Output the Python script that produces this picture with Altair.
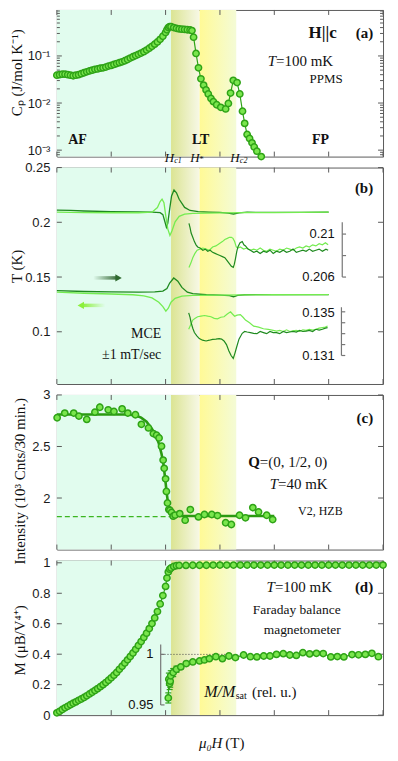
import altair as alt
import pandas as pd

# ------------------------------------------------------------------ data
H_C1, H_STAR, H_C2 = 4.2, 5.25, 6.6
FIELD_TICKS = [0, 2, 4, 6, 8, 10, 12]

# (a) specific heat, T = 100 mK (PPMS)
cp_field = [0.0, 0.1, 0.2, 0.3, 0.4, 0.5, 0.6, 0.7, 0.8, 0.9, 1.0, 1.1, 1.2, 1.3, 1.4, 1.5, 1.6, 1.7, 1.8, 1.9,
            2.0, 2.1, 2.2, 2.3, 2.4, 2.5, 2.6, 2.7, 2.8, 2.9, 3.0, 3.1, 3.2, 3.3, 3.4, 3.5, 3.6, 3.7, 3.8, 3.9,
            4.0, 4.05, 4.1, 4.15, 4.2, 4.3, 4.4, 4.5, 4.6, 4.7, 4.8, 4.9, 4.97, 5.03,
            5.12, 5.21, 5.30, 5.40, 5.49, 5.57, 5.67, 5.76, 5.88, 6.03, 6.21, 6.31, 6.39, 6.49, 6.63, 6.73,
            6.83, 6.91, 7.00, 7.09, 7.18, 7.26, 7.36, 7.52]
cp_value = [0.039, 0.040, 0.041, 0.041, 0.040, 0.039, 0.038, 0.039, 0.040, 0.042, 0.044, 0.046, 0.048, 0.050,
            0.052, 0.053, 0.055, 0.056, 0.058, 0.061, 0.063, 0.066, 0.069, 0.072, 0.075, 0.079, 0.084, 0.090,
            0.096, 0.102, 0.108, 0.115, 0.123, 0.133, 0.146, 0.160, 0.178, 0.198, 0.225, 0.262,
            0.315, 0.36, 0.40, 0.42, 0.42, 0.40, 0.385, 0.375, 0.37, 0.365, 0.36, 0.355, 0.345, 0.25,
            0.113, 0.056, 0.0327, 0.024, 0.019, 0.0156, 0.0125, 0.0107, 0.0092, 0.0081, 0.0075, 0.0098, 0.0163,
            0.0303, 0.0272, 0.0156, 0.0067, 0.0037, 0.00216, 0.00177, 0.00143, 0.00117, 0.00095, 0.00073]
cp_minor_ticks = [0.0008, 0.0009, 0.002, 0.003, 0.004, 0.005, 0.006, 0.007, 0.008, 0.009, 0.02, 0.03, 0.04,
                  0.05, 0.06, 0.07, 0.08, 0.09, 0.2, 0.3, 0.4, 0.5, 0.6, 0.7, 0.8, 0.9]

# (b) magnetocaloric effect, up sweep (dark) and down sweep (light)
up_hi_field = [0, 0.5, 1, 2, 3, 3.5, 3.8, 3.9, 3.97, 4.03, 4.08, 4.15, 4.22, 4.31, 4.4, 4.5, 4.7, 4.9, 5.2,
               5.6, 6.0, 6.3, 6.5, 6.7, 7.0, 8.0, 9.0, 10.0]
up_hi_temp = [0.2112, 0.2108, 0.2103, 0.2098, 0.2095, 0.2093, 0.2088, 0.207, 0.201, 0.1955, 0.199, 0.212,
              0.224, 0.2296, 0.227, 0.221, 0.2136, 0.2108, 0.2097, 0.2093, 0.209, 0.2083, 0.2076, 0.2087,
              0.2092, 0.209, 0.2091, 0.2092]
dn_hi_field = [0, 1, 2, 3, 3.5, 3.7, 3.8, 3.87, 3.94, 4.0, 4.08, 4.16, 4.24, 4.35, 4.5, 4.7, 5.0, 6.0, 7.0,
               8.0, 9.0, 10.0]
dn_hi_temp = [0.2092, 0.2089, 0.2087, 0.2087, 0.2092, 0.2135, 0.219, 0.2212, 0.218, 0.207, 0.194, 0.188,
              0.1925, 0.2005, 0.2055, 0.2075, 0.2082, 0.2086, 0.2088, 0.2089, 0.209, 0.2092]
up_lo_field = [0, 1, 2, 3, 3.6, 3.9, 4.05, 4.15, 4.3, 4.45, 4.6, 4.8, 5.0, 5.5, 6.0, 6.35, 6.5, 6.65, 6.9,
               7.5, 8.5, 10.0]
up_lo_temp = [0.1375, 0.1368, 0.1364, 0.1362, 0.1365, 0.1372, 0.1395, 0.1445, 0.1491, 0.1462, 0.1405,
              0.1362, 0.1348, 0.1338, 0.1334, 0.1330, 0.1320, 0.1333, 0.1338, 0.1339, 0.1339, 0.1340]
dn_lo_field = [0, 1, 2, 2.8, 3.2, 3.5, 3.75, 3.9, 4.01, 4.1, 4.2, 4.35, 4.6, 5.0, 6.0, 7.0, 8.0, 10.0]
dn_lo_temp = [0.1362, 0.1352, 0.1345, 0.1338, 0.1328, 0.1310, 0.1270, 0.1230, 0.1188, 0.1215, 0.1270,
              0.1305, 0.1325, 0.1332, 0.1335, 0.1337, 0.1338, 0.1340]

# (b) insets: zoomed traces (own temperature scales)
ins_up_dark_field = [4.86, 4.90, 4.94, 5.0, 5.06, 5.12, 5.18, 5.27, 5.37, 5.46, 5.55, 5.64, 5.73, 5.82, 5.91,
                     6.0, 6.09, 6.18, 6.27, 6.36, 6.42, 6.49, 6.53, 6.57, 6.62, 6.66, 6.74, 6.82, 6.88, 6.94,
                     7.03, 7.12, 7.24, 7.36, 7.48, 7.6, 7.72, 7.84, 7.96, 8.08, 8.2, 8.33, 8.45, 8.57, 8.69,
                     8.81, 8.93, 9.05, 9.17, 9.29, 9.41, 9.53, 9.65, 9.77, 9.9, 9.98]
ins_up_dark_temp = [0.2110, 0.2106, 0.2101, 0.2097, 0.2093, 0.2090, 0.2088, 0.2087, 0.2085, 0.2086, 0.2084,
                    0.2085, 0.2083, 0.2082, 0.2081, 0.2080, 0.2079, 0.2078, 0.2075, 0.2072, 0.2070, 0.2069,
                    0.2072, 0.2077, 0.2084, 0.2088, 0.2092, 0.2093, 0.2090, 0.2089, 0.2086, 0.2085, 0.2083,
                    0.2084, 0.2082, 0.2084, 0.2083, 0.2085, 0.2082, 0.2084, 0.2083, 0.2085, 0.2083, 0.2084,
                    0.2086, 0.2083, 0.2084, 0.2085, 0.2084, 0.2086, 0.2084, 0.2085, 0.2086, 0.2084, 0.2086,
                    0.2085]
ins_up_light_field = [4.86, 4.93, 5.0, 5.08, 5.16, 5.26, 5.37, 5.49, 5.61, 5.73, 5.85, 5.97, 6.09, 6.18, 6.27,
                      6.35, 6.42, 6.48, 6.54, 6.6, 6.66, 6.75, 6.87, 6.99, 7.12, 7.24, 7.36, 7.48, 7.6, 7.72,
                      7.84, 7.96, 8.08, 8.2, 8.33, 8.45, 8.57, 8.69, 8.81, 8.93, 9.05, 9.17, 9.29, 9.41, 9.53,
                      9.65, 9.77, 9.88, 9.98]
ins_up_light_temp = [0.2069, 0.2073, 0.2078, 0.2082, 0.2085, 0.2086, 0.2087, 0.2086, 0.2085, 0.2088, 0.2089,
                     0.2091, 0.2093, 0.2095, 0.2096, 0.2097, 0.2097, 0.2096, 0.2093, 0.2088, 0.2087, 0.2088,
                     0.2086, 0.2087, 0.2085, 0.2086, 0.2085, 0.2087, 0.2085, 0.2084, 0.2086, 0.2085, 0.2084,
                     0.2086, 0.2085, 0.2087, 0.2086, 0.2085, 0.2087, 0.2088, 0.2087, 0.2089, 0.2088, 0.2090,
                     0.2089, 0.2091, 0.2090, 0.2092, 0.2090]
ins_lo_dark_field = [4.85, 4.9, 4.94, 5.0, 5.06, 5.15, 5.24, 5.36, 5.49, 5.61, 5.73, 5.85, 5.97, 6.06, 6.15,
                     6.24, 6.33, 6.41, 6.49, 6.55, 6.61, 6.7, 6.82, 6.91, 7.0, 7.12, 7.24, 7.36, 7.48, 7.6,
                     7.72, 7.84, 7.96, 8.08, 8.2, 8.33, 8.45, 8.57, 8.69, 8.81, 8.93, 9.05, 9.17, 9.29, 9.41,
                     9.53, 9.65, 9.77, 9.88, 9.96]
ins_lo_dark_temp = [0.1349, 0.1345, 0.1340, 0.1335, 0.1331, 0.1328, 0.13255, 0.1324, 0.13233, 0.1324,
                    0.13248, 0.1325, 0.13255, 0.1325, 0.13233, 0.1320, 0.13142, 0.1310, 0.13073, 0.1312,
                    0.13173, 0.1325, 0.13303, 0.1332, 0.13315, 0.1331, 0.13303, 0.1330, 0.1332, 0.1331,
                    0.1330, 0.1332, 0.1331, 0.1331, 0.1330, 0.1332, 0.1331, 0.13315, 0.1332, 0.13315,
                    0.1333, 0.1332, 0.13324, 0.1333, 0.1332, 0.1334, 0.13333, 0.1334, 0.1335, 0.13355]
ins_lo_light_field = [4.85, 4.92, 5.0, 5.09, 5.18, 5.3, 5.43, 5.55, 5.67, 5.79, 5.91, 6.03, 6.15, 6.27, 6.39,
                      6.46, 6.54, 6.63, 6.75, 6.85, 6.94, 7.09, 7.24, 7.42, 7.6, 7.78, 7.96, 8.08, 8.2, 8.33,
                      8.45, 8.57, 8.69, 8.81, 8.93, 9.05, 9.17, 9.29, 9.41, 9.53, 9.65, 9.77, 9.88, 9.96]
ins_lo_light_temp = [0.1334, 0.1338, 0.13424, 0.1344, 0.13455, 0.1346, 0.13466, 0.1346, 0.13455, 0.1344,
                     0.13436, 0.1345, 0.13455, 0.1348, 0.1350, 0.1348, 0.1346, 0.1347, 0.13475, 0.1345,
                     0.13424, 0.1340, 0.13369, 0.1336, 0.13345, 0.1334, 0.1333, 0.13324, 0.1333, 0.1332,
                     0.13335, 0.1332, 0.13325, 0.1333, 0.1332, 0.13335, 0.1333, 0.1334, 0.13333, 0.1334,
                     0.1335, 0.13355, 0.1336, 0.1337]

# (c) neutron intensity of Q=(0,1/2,0), T = 40 mK
nd_field = [0.01, 0.29, 0.62, 0.81, 1.10, 1.40, 1.58, 1.89, 2.10, 2.40, 2.61, 2.89, 3.11, 3.37, 3.55, 3.67,
            3.76, 3.85, 3.91, 3.95, 4.00, 4.03, 4.07, 4.12, 4.16, 4.22, 4.28, 4.35, 4.52, 4.72, 4.91, 5.21,
            5.43, 5.70, 5.91, 6.21, 6.42, 6.72, 6.94, 7.21, 7.42, 7.72, 7.94]
nd_int = [2.779, 2.824, 2.824, 2.795, 2.763, 2.833, 2.881, 2.856, 2.840, 2.865, 2.824, 2.808, 2.715, 2.680,
          2.625, 2.609, 2.583, 2.503, 2.368, 2.288, 2.186, 2.064, 1.952, 1.888, 1.881, 1.86, 1.824, 1.835,
          1.849, 1.785, 1.888, 1.817, 1.840, 1.840, 1.830, 1.760, 1.743, 1.833, 1.808, 1.907, 1.865, 1.833,
          1.791]
nd_err = [0.03, 0.03, 0.03, 0.03, 0.03, 0.03, 0.035, 0.03, 0.03, 0.03,
          0.03, 0.03, 0.03, 0.03, 0.03, 0.03, 0.03, 0.03, 0.03, 0.03,
          0.03, 0.03, 0.03, 0.025, 0.025, 0.025, 0.025, 0.025, 0.025, 0.025,
          0.025, 0.025, 0.025, 0.025, 0.025, 0.025, 0.025, 0.025, 0.025, 0.035,
          0.025, 0.025, 0.025]
fit_field = [0.0, 2.6, 2.9, 3.1, 3.3, 3.5, 3.65, 3.75, 3.85, 3.92, 3.98, 4.04, 4.1, 4.16, 4.24, 4.4, 8.0]
fit_int = [2.81, 2.81, 2.80, 2.78, 2.74, 2.67, 2.60, 2.53, 2.43, 2.33, 2.20, 2.05, 1.93, 1.87, 1.835, 1.825,
           1.825]
base_field = [0.0, 4.2]
base_int = [1.82, 1.82]

# (d) magnetization, T = 100 mK (Faraday balance)
m_field = [0.0, 0.1, 0.2, 0.3, 0.4, 0.5, 0.6, 0.7, 0.8, 0.9, 1.0, 1.1, 1.2, 1.3, 1.4, 1.5, 1.6, 1.7, 1.8, 1.9,
           2.0, 2.1, 2.2, 2.3, 2.4, 2.5, 2.6, 2.7, 2.8, 2.9, 3.0, 3.1, 3.2, 3.3, 3.4, 3.5, 3.6, 3.7, 3.8, 3.9,
           4.0, 4.05, 4.1, 4.15, 4.2, 4.3, 4.4, 4.5, 4.75, 5.0, 5.25, 5.5, 5.75, 6.0, 6.25, 6.5, 6.75, 7.0,
           7.25, 7.5, 7.75, 8.0, 8.25, 8.5, 8.75, 9.0, 9.25, 9.5, 9.75, 10.0, 10.25, 10.5, 10.75, 11.0, 11.25,
           11.5, 11.75, 12.0]
m_value = [0.015, 0.025, 0.037, 0.048, 0.058, 0.068, 0.078, 0.087, 0.097, 0.106, 0.116,
           0.127, 0.139, 0.150, 0.162, 0.174, 0.187, 0.200, 0.214, 0.229, 0.245,
           0.262, 0.280, 0.301, 0.321, 0.342, 0.363, 0.385, 0.408, 0.432, 0.457,
           0.483, 0.510, 0.538, 0.568, 0.601, 0.638, 0.680, 0.730, 0.785, 0.845,
           0.90, 0.94, 0.958, 0.966, 0.976, 0.981,
           0.983, 0.983, 0.984, 0.984, 0.984, 0.985, 0.985, 0.985, 0.985, 0.985,
           0.985, 0.985, 0.985, 0.985, 0.985, 0.985, 0.985, 0.985, 0.985, 0.985,
           0.985, 0.985, 0.985, 0.985, 0.985, 0.985, 0.985, 0.985, 0.985, 0.985, 0.985]
# (d) inset: M / M_sat (relative units)
rel_field = [4.10, 4.12, 4.15, 4.17, 4.19, 4.28, 4.40, 4.56, 4.76, 5.00, 5.25, 5.43, 5.61, 5.85, 6.09, 6.33,
             6.57, 6.87, 7.12, 7.36, 7.61, 7.84, 8.08, 8.33, 8.57, 8.81, 9.05, 9.30, 9.55, 9.80, 10.08, 10.32,
             10.56, 10.86, 11.10, 11.35, 11.59, 11.83]
rel_value = [0.9569, 0.9755, 0.9712, 0.9735, 0.9788, 0.982, 0.9853, 0.9876, 0.9909, 0.9925, 0.9935, 0.9945,
             0.9958, 0.9977, 0.9958, 0.9984, 0.9968, 0.9994, 0.9977, 0.9975, 0.9984, 0.9984, 1.0, 1.0007,
             0.9994, 0.999, 1.0017, 1.0005, 1.001, 1.0008, 0.9975, 0.9978, 0.9975, 0.9998, 0.9996, 1.0, 1.001,
             0.9977]
rel_err = [0.005, 0.006, 0.006, 0.006, 0.005, 0.004, 0.003, 0.002, 0.002, 0.0015,
           0.0015, 0.0015, 0.0015, 0.0015, 0.0015, 0.0015, 0.0015, 0.0015, 0.0015, 0.0015,
           0.0015, 0.0015, 0.0015, 0.0015, 0.0015, 0.0015, 0.0015, 0.0015, 0.0015, 0.0015,
           0.0015, 0.0015, 0.0015, 0.0015, 0.0015, 0.0015, 0.0015, 0.0015]

# ------------------------------------------------------------------ style / layout
W = 327
HA, HB, HC, HD = 147, 217, 155, 155
FX = W / 331.0
FA, FB, FC, FD = HA / 154.0, HB / 218.0, HC / 156.0, HD / 156.0
FRAME = "#5b5b5b"
SANS = "Liberation Sans"
SERIF = "Liberation Serif"
MK_FILL = "#7ae64d"
MK_EDGE = "#2fa317"
DARK = "#1f8a1f"
LIGHT = "#74ec50"

XS = alt.Scale(domain=[0, 12], nice=False, zero=False)
ONE = pd.DataFrame({"k": [0]})


def table(**cols):
    return pd.DataFrame(cols)


def xq(field, axis=None):
    return alt.X(f"{field}:Q", scale=XS, axis=axis)


def yq(field, scale, axis=None):
    return alt.Y(f"{field}:Q", scale=scale, axis=axis)


def text(s, x, y, size=15, align="left", weight="normal", style="normal", font=SERIF, color="#111"):
    return alt.Chart(ONE).mark_text(text=s, align=align, baseline="middle", fontSize=size,
                                    fontWeight=weight, fontStyle=style, font=font, color=color
                                    ).encode(x=alt.value(x * FX), y=alt.value(y))


def grad(c0, c1):
    return alt.LinearGradient(gradient="linear",
                              stops=[alt.GradientStop(color=c0, offset=0), alt.GradientStop(color=c1, offset=1)],
                              x1=0, x2=1, y1=0, y2=0)


def backgrounds(h):
    spec = [(0.0, H_C1, "#e1fcee"),
            (H_C1, H_STAR, grad("#dbe493", "#f7f8e6")),
            (H_STAR, H_C2, grad("#fffa96", "#f4fbd6"))]
    out = []
    for a, b, fill in spec:
        out.append(alt.Chart(table(a=[a], b=[b])).mark_rect(fill=fill, strokeWidth=0).encode(
            x=xq("a"), x2="b", y=alt.value(0), y2=alt.value(h)))
    return out


def frame_ticks(h, yscale, major, minor=()):
    rule = dict(color=FRAME, strokeWidth=1)
    xt = table(v=FIELD_TICKS)
    out = [alt.Chart(xt).mark_rule(**rule).encode(x=xq("v"), y=alt.value(h - 5), y2=alt.value(h)),
           alt.Chart(xt).mark_rule(**rule).encode(x=xq("v"), y=alt.value(0), y2=alt.value(5))]
    for vals, ln in ((major, 5), (minor, 3)):
        if not vals:
            continue
        yt = table(v=list(vals))
        out.append(alt.Chart(yt).mark_rule(**rule).encode(y=yq("v", yscale), x=alt.value(0), x2=alt.value(ln)))
        out.append(alt.Chart(yt).mark_rule(**rule).encode(y=yq("v", yscale), x=alt.value(W - ln),
                                                          x2=alt.value(W)))
    return out


def yaxis(title, values, tx, ty, expr=None):
    kw = dict(title=title, values=values, format="~g", labelFont=SANS, labelFontSize=13,
              labelColor="#1a1a1a", labelPadding=7, ticks=False, tickSize=0, domain=False, grid=False,
              titleFont=SERIF, titleFontSize=15, titleFontWeight="normal", titleColor="#111",
              titleAngle=270, titleAlign="center", titleBaseline="middle", titleX=tx, titleY=ty)
    if expr:
        kw["labelExpr"] = expr
    return alt.Axis(**kw)


def points(data, xf, yf, yscale, axis=None, xaxis=None):
    return alt.Chart(data).mark_point(shape="circle", filled=True, fill=MK_FILL, stroke=MK_EDGE,
                                      strokeWidth=1.5, size=40, opacity=1).encode(
        x=xq(xf, xaxis), y=yq(yf, yscale, axis))


def line(data, xf, yf, yscale, color, width=1.2, dash=None):
    kw = dict(color=color, strokeWidth=width)
    if dash:
        kw["strokeDash"] = dash
    return alt.Chart(data).mark_line(**kw).encode(x=xq(xf), y=yq(yf, yscale))


def bracket(xpos, lo, hi, tick_vals, scale):
    dx = 0.14
    rule = dict(color="#777777", strokeWidth=1.2)
    v = alt.Chart(table(a=[xpos], lo=[lo], hi=[hi])).mark_rule(**rule).encode(
        x=xq("a"), y=yq("lo", scale), y2="hi")
    t = alt.Chart(table(a=[xpos] * len(tick_vals), b=[xpos + dx] * len(tick_vals), v=tick_vals)).mark_rule(
        **rule).encode(x=xq("a"), x2="b", y=yq("v", scale))
    return [v, t]


# ------------------------------------------------------------------ panel (a)
YA = alt.Scale(type="log", domain=[0.00073, 0.946], nice=False)
cp = table(h=cp_field, c=cp_value)
a_axis = yaxis("Cₚ (J/mol K⁻¹)", [0.001, 0.01, 0.1], -40.5, 65.5 * FA,
               expr="datum.value < 0.005 ? '10⁻³' : datum.value < 0.05 ? '10⁻²' : '10⁻¹'")
a_layers = backgrounds(HA) + frame_ticks(HA, YA, [0.001, 0.01, 0.1], cp_minor_ticks) + [
    line(cp, "h", "c", YA, MK_EDGE),
    points(cp, "h", "c", YA, a_axis),
    text("H||c", 284, 24 * FA, size=17, align="right", weight="bold"),
    text("(a)", 321, 24 * FA, size=15, align="right", weight="bold"),
    text("T", 222.5, 54 * FA, style="italic", align="right"),
    text("=100 mK", 222.5, 54 * FA),
    text("PPMS", 290, 72 * FA, size=13, align="right"),
    text("AF", 21, 137 * FA, size=14, align="center", weight="bold"),
    text("LT", 146, 137 * FA, size=14, align="center", weight="bold"),
    text("FP", 267.5, 137 * FA, size=14, align="center", weight="bold"),
    text("H", 114.3, HA + 1, size=13, align="center", style="italic"),
    text("c1", 119, HA + 4, size=8, style="italic"),
    text("H", 140.2, HA + 1, size=13, align="center", style="italic"),
    text("*", 144.5, HA + 2, size=9),
    text("H", 180.7, HA + 1, size=13, align="center", style="italic"),
    text("c2", 185.7, HA + 4, size=8, style="italic"),
]
panel_a = alt.layer(*a_layers).resolve_scale(y="independent").properties(width=W, height=HA)

# ------------------------------------------------------------------ panel (b)
YB = alt.Scale(domain=[0.0523, 0.25], nice=False, zero=False)
YBU = alt.Scale(domain=[0.206, 0.21], range=[110.3 * FB, 67.0 * FB], nice=False, zero=False)
YBL = alt.Scale(domain=[0.131, 0.135], range=[189.3 * FB, 145.3 * FB], nice=False, zero=False)
b_axis = yaxis("T (K)", [0.1, 0.15, 0.2, 0.25], -40.5, 99 * FB)

up_hi = table(h=up_hi_field, t=up_hi_temp)
ARROW_DARK = (1.34, 2.22, 2.27, 0.1492)
ARROW_LIGHT = (0.93, 1.78, 0.88, 0.1241)


def arrow(x0, x1, head_x, yv, c_from, c_to, shape, head_color):
    d = 0.0016
    shaft = alt.Chart(table(a=[x0], b=[x1], lo=[yv - d], hi=[yv + d])).mark_rect(
        fill=grad(c_from, c_to), strokeWidth=0).encode(x=xq("a"), x2="b", y=yq("lo", YB), y2="hi")
    head = alt.Chart(table(a=[head_x], t=[yv])).mark_point(shape=shape, filled=True, fill=head_color,
                                                          strokeWidth=0, size=55, opacity=1).encode(
        x=xq("a"), y=yq("t", YB))
    return [shaft, head]


b_layers = backgrounds(HB) + frame_ticks(HB, YB, [0.1, 0.15, 0.2, 0.25]) + [
    alt.Chart(up_hi).mark_line(color=DARK, strokeWidth=1.3).encode(x=xq("h"), y=yq("t", YB, b_axis)),
    line(table(h=dn_hi_field, t=dn_hi_temp), "h", "t", YB, LIGHT, 1.3),
    line(table(h=up_lo_field, t=up_lo_temp), "h", "t", YB, DARK, 1.3),
    line(table(h=dn_lo_field, t=dn_lo_temp), "h", "t", YB, LIGHT, 1.3),
    line(table(h=ins_up_light_field, t=ins_up_light_temp), "h", "t", YBU, LIGHT, 1.2),
    line(table(h=ins_up_dark_field, t=ins_up_dark_temp), "h", "t", YBU, DARK, 1.2),
    line(table(h=ins_lo_light_field, t=ins_lo_light_temp), "h", "t", YBL, LIGHT, 1.2),
    line(table(h=ins_lo_dark_field, t=ins_lo_dark_temp), "h", "t", YBL, DARK, 1.2),
] + bracket(10.5, 0.206, 0.2111, [0.206, 0.208, 0.21], YBU) \
  + bracket(10.47, 0.131, 0.13542, [0.131, 0.132, 0.133, 0.134, 0.135], YBL) \
  + arrow(ARROW_DARK[0], ARROW_DARK[1], ARROW_DARK[2], ARROW_DARK[3], "rgba(60,110,60,0)", "#3c6e3c",
          "triangle-right", "#2f6a2f") \
  + arrow(ARROW_LIGHT[0], ARROW_LIGHT[1], ARROW_LIGHT[2], ARROW_LIGHT[3], "#8cf03c", "rgba(140,240,60,0)",
          "triangle-left", "#8cf03c") + [
    text("(b)", 321, 21 * FB, weight="bold", align="right"),
    text("MCE", 106, 168 * FB, size=14, align="right"),
    text("±1 mT/sec", 106, 189 * FB, size=14, align="right"),
    text("0.21", 282, 67 * FB, size=13, align="right", font=SANS),
    text("0.206", 282, 110.3 * FB, size=13, align="right", font=SANS),
    text("0.135", 282, 146.3 * FB, size=13, align="right", font=SANS),
    text("0.131", 282, 189.7 * FB, size=13, align="right", font=SANS),
]
panel_b = alt.layer(*b_layers).resolve_scale(y="independent").properties(width=W, height=HB)

# ------------------------------------------------------------------ panel (c)
YC = alt.Scale(domain=[1.5, 3.0], nice=False, zero=False)
nd = table(h=nd_field, i=nd_int, e=nd_err)
c_axis = yaxis("Intensity (10³ Cnts/30 min.)", [2, 2.5, 3], -37, 86.5 * FC)
c_layers = backgrounds(HC) + frame_ticks(HC, YC, [2, 2.5, 3]) + [
    line(table(h=base_field, i=base_int), "h", "i", YC, "#3cb521", 1.2, [5, 3]),
    line(table(h=fit_field, i=fit_int), "h", "i", YC, "#2a9a10", 2.6),
    alt.Chart(nd).transform_calculate(lo="datum.i - datum.e", hi="datum.i + datum.e").mark_rule(
        color=MK_EDGE, strokeWidth=1.2).encode(x=xq("h"), y=yq("lo", YC), y2="hi"),
    points(nd, "h", "i", YC, c_axis),
    text("(c)", 321, 23 * FC, weight="bold", align="right"),
    text("Q", 206, 68 * FC, weight="bold", align="right"),
    text("=(0, 1/2, 0)", 206, 68 * FC),
    text("T", 224.5, 90 * FC, style="italic", align="right"),
    text("=40 mK", 224.5, 90 * FC),
    text("V2, HZB", 290, 117 * FC, size=12, align="right"),
]
panel_c = alt.layer(*c_layers).resolve_scale(y="independent").properties(width=W, height=HC)

# ------------------------------------------------------------------ panel (d)
YD = alt.Scale(domain=[0, HD / (HD - 2.3 * FD)], nice=False, zero=False)
YDI = alt.Scale(domain=[0.95, 1.0], range=[145.7 * FD, 94.7 * FD], nice=False, zero=False)
mm = table(h=m_field, m=m_value)
rel = table(h=rel_field, r=rel_value, e=rel_err)
d_axis = yaxis("M (μB/V⁴⁺)", [0, 0.2, 0.4, 0.6, 0.8, 1], -37, 80 * FD)
x_axis = alt.Axis(values=FIELD_TICKS, format="d", labelFont=SANS, labelFontSize=13, labelColor="#1a1a1a",
                  labelPadding=7, ticks=False, tickSize=0, domain=False, grid=False, title=None)
d_layers = backgrounds(HD) + frame_ticks(HD, YD, [0, 0.2, 0.4, 0.6, 0.8, 1.0]) + [
    line(mm, "h", "m", YD, MK_EDGE),
    points(mm, "h", "m", YD, d_axis, x_axis),
    alt.Chart(table(a=[3.85], b=[6.3], v=[1.0])).mark_rule(color="#444", strokeWidth=1, strokeDash=[1, 2]
                                                           ).encode(x=xq("a"), x2="b", y=yq("v", YDI)),
] + bracket(3.82, 0.95, 1.0098, [0.95, 1.0], YDI) + [
    line(rel, "h", "r", YDI, MK_EDGE),
    alt.Chart(rel).transform_calculate(lo="datum.r - datum.e", hi="datum.r + datum.e").mark_rule(
        color=MK_EDGE, strokeWidth=1.2).encode(x=xq("h"), y=yq("lo", YDI), y2="hi"),
    alt.Chart(rel).transform_calculate(lo="datum.r - datum.e", a="datum.h - 0.11", b="datum.h + 0.11"
                                       ).mark_rule(color=MK_EDGE, strokeWidth=1.2).encode(
        x=xq("a"), x2="b", y=yq("lo", YDI)),
    alt.Chart(rel).transform_calculate(hi="datum.r + datum.e", a="datum.h - 0.11", b="datum.h + 0.11"
                                       ).mark_rule(color=MK_EDGE, strokeWidth=1.2).encode(
        x=xq("a"), x2="b", y=yq("hi", YDI)),
    points(rel, "h", "r", YDI),
    text("T", 221.3, 27 * FD, style="italic", align="right"),
    text("=100 mK", 221.3, 27 * FD),
    text("(d)", 321, 27 * FD, weight="bold", align="right"),
    text("Faraday balance", 288, 49.7 * FD, size=13.5, align="right"),
    text("magnetometer", 288, 69.7 * FD, size=13.5, align="right"),
    text("M/M", 181, 133 * FD, size=16, style="italic", align="right"),
    text("sat", 181.5, 137 * FD, size=10),
    text("(rel. u.)", 198, 133 * FD),
    text("1", 98, 94.7 * FD, size=13, align="right", font=SANS),
    text("0.95", 98, 145.7 * FD, size=13, align="right", font=SANS),
    text("μ₀H", 168, HD + 28, style="italic", align="right"),
    text("(T)", 171, HD + 28),
]
panel_d = alt.layer(*d_layers).resolve_scale(y="independent").properties(width=W, height=HD)

chart = alt.vconcat(panel_a, panel_b, panel_c, panel_d, spacing=11, bounds="flush").properties(
    padding={"left": 0, "right": 0, "top": 0, "bottom": 0}, background="white"
).configure_view(stroke=FRAME, strokeWidth=1)

chart.save("out.html", embed_options={"renderer": "svg", "actions": False})
